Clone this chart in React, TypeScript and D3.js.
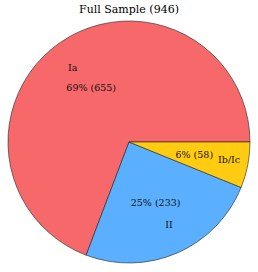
import React from 'react';
import * as d3 from 'd3';

// chart data
const categories = ['Ia', 'II', 'Ib/Ic'];
const counts = [655, 233, 58];
const colors = ['#f7686a', '#5ab0ff', '#ffcc11'];
const title = 'Full Sample (946)';

const W = 258;
const H = 272;
const cx = 129;
const cy = 142;
const r = 121;

type Slice = { name: string; value: number; color: string };

export default function App() {
  const data: Slice[] = categories.map((c, i) => ({ name: c, value: counts[i], color: colors[i] }));
  const total = d3.sum(counts);

  // matplotlib style: start at 3 o'clock, go counter-clockwise
  const pie = d3.pie<Slice>()
    .sort(null)
    .value(d => d.value)
    .startAngle(Math.PI / 2)
    .endAngle(Math.PI / 2 - 2 * Math.PI);

  const arcs = pie(data);
  const arc = d3.arc<d3.PieArcDatum<Slice>>().innerRadius(0).outerRadius(r);

  const pos = (a: d3.PieArcDatum<Slice>, k: number) => {
    const m = (a.startAngle + a.endAngle) / 2;
    return [Math.sin(m) * r * k, -Math.cos(m) * r * k];
  };

  const font = "'DejaVu Serif', serif";

  return (
    <div style={{ position: 'absolute', left: 0, top: 0 }}>
      <svg width={W} height={H} style={{ display: 'block', background: '#fff' }}>
        <text x={cx} y={13} textAnchor="middle" fontFamily={font} fontSize={11} fill="#000">
          {title}
        </text>
        <g transform={`translate(${cx},${cy})`}>
          {arcs.map(a => (
            <path key={a.data.name} d={arc(a) || ''} fill={a.data.color} stroke="#222" strokeWidth={0.6} />
          ))}
          {arcs.map(a => {
            const [lx, ly] = pos(a, 0.75);
            const [px, py] = pos(a, 0.55);
            const pct = Math.round((a.data.value / total) * 100);
            return (
              <g key={'l' + a.data.name} fontFamily={font} fontSize={9.5} fill="#111">
                <text x={lx} y={ly} dy="0.35em" textAnchor={lx < 0 ? 'end' : 'start'}>
                  {a.data.name}
                </text>
                <text x={px} y={py} dy="0.35em" textAnchor="middle">
                  {`${pct}% (${a.data.value})`}
                </text>
              </g>
            );
          })}
        </g>
      </svg>
    </div>
  );
}
